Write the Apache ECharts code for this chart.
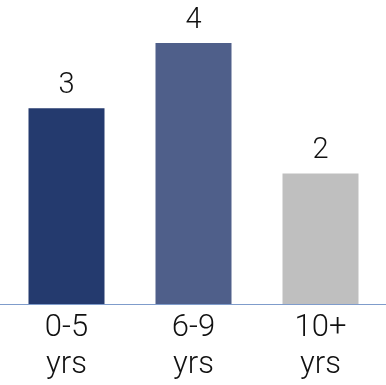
<!DOCTYPE html>
<html><head><meta charset="utf-8">
<script src="https://cdn.jsdelivr.net/npm/echarts@6/dist/echarts.min.js"></script>
<style>html,body{margin:0;padding:0;background:#fff}#c{width:386px;height:385px}</style>
</head><body><div id="c"></div>
<script>
var categories = ['0-5\nyrs', '6-9\nyrs', '10+\nyrs'];
var values = [3, 4, 2];
var colors = ['#243a6e', '#4f5f8a', '#bfbfbf'];

var chart = echarts.init(document.getElementById('c'), null, {renderer: 'canvas'});
chart.setOption({
  animation: false,
  grid: {left: 3, right: 2, top: 43, bottom: 81},
  xAxis: {
    type: 'category',
    data: categories,
    axisLine: {show: true, lineStyle: {color: '#7f9ccb', width: 1}},
    axisTick: {show: false},
    axisLabel: {color: '#111', fontFamily: 'Roboto', fontWeight: 300, fontSize: 31, lineHeight: 37, margin: 6}
  },
  yAxis: {type: 'value', min: 0, max: 4, show: false, splitLine: {show: false}},
  graphic: [
    {type: 'line', shape: {x1: 0, y1: 304.5, x2: 386, y2: 304.5}, style: {stroke: '#7f9ccb', lineWidth: 1}, z: 10}
  ],
  series: [{
    type: 'bar',
    barWidth: 76,
    data: values.map(function (v, i) { return {value: v, itemStyle: {color: colors[i]}}; }),
    label: {show: true, position: 'top', distance: 8, color: '#111', fontFamily: 'Roboto', fontWeight: 300, fontSize: 29}
  }]
});
</script></body></html>
